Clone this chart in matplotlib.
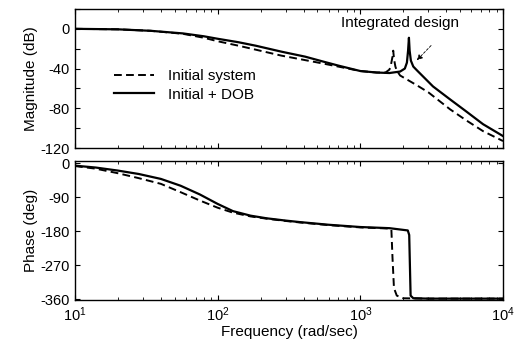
import numpy as np
import matplotlib
matplotlib.use("Agg")
import matplotlib.pyplot as plt
from matplotlib.ticker import MultipleLocator, FuncFormatter, LogLocator

plt.rcParams['font.family'] = ['Liberation Sans', 'DejaVu Sans']

# --- data (rad/sec, dB, deg) ---
f_mag_init = [10, 20, 34, 57, 80, 100, 140, 185, 280, 410, 550, 700, 1000, 1300, 1500,
              1600, 1640, 1680, 1700, 1720, 1760, 1800, 1900, 2500, 3000, 4250, 5500,
              7240, 10000]
mag_init = [0, -0.5, -2, -5, -9, -12.5, -17, -21, -27, -31.5, -35, -38, -42.5, -44, -44,
            -41, -36, -28, -22, -30, -38, -42, -47, -57, -64, -81, -92, -103, -113]

f_mag_dob = [10, 20, 34, 57, 80, 100, 140, 185, 280, 410, 550, 700, 1000, 1300, 1600,
             1900, 2050, 2120, 2160, 2190, 2215, 2260, 2350, 2500, 3230, 4250, 5500,
             7240, 10000]
mag_dob = [0, -0.5, -2, -4.6, -7.5, -10, -13.5, -17, -23, -28, -33, -37, -42.5, -44,
           -44.5, -43, -40, -34, -22, -9, -22, -32, -38, -42, -58, -71, -83, -96, -108]

f_ph_init = [10, 14, 20, 28, 40, 55, 75, 100, 128, 170, 221, 300, 378, 600, 1000, 1600,
             1650, 1680, 1720, 1800, 2000, 3000, 10000]
ph_init = [-8, -15, -27, -40, -55, -77, -99, -118, -131, -141, -147, -153, -157, -164,
           -170, -173, -176, -250, -330, -350, -357, -358, -358]

f_ph_dob = [10, 14, 20, 28, 40, 55, 75, 100, 128, 170, 221, 300, 378, 600, 1000, 1600,
            2150, 2200, 2250, 2350, 3000, 10000]
ph_dob = [-7, -12, -20, -29, -42, -60, -83, -108, -127, -139, -146, -152, -156, -163,
          -169, -172, -178, -190, -350, -357, -358, -358]

mag_ticks = [0, -40, -80, -120]
ph_ticks = [0, -90, -180, -270, -360]

fig = plt.figure(figsize=(5.17, 3.45), dpi=100)
ax1 = fig.add_axes([0.145, 0.571, 0.828, 0.403])
ax2 = fig.add_axes([0.145, 0.130, 0.828, 0.403])

dash = (0, (4, 2.2))
ax1.semilogx(f_mag_init, mag_init, color='black', lw=1.4, linestyle=dash, label='Initial system')
ax1.semilogx(f_mag_dob, mag_dob, color='black', lw=1.6, label='Initial + DOB')
ax2.semilogx(f_ph_init, ph_init, color='black', lw=1.4, linestyle=dash)
ax2.semilogx(f_ph_dob, ph_dob, color='black', lw=1.6)

ax1.set_ylim(-120, 20)
ax2.set_ylim(-362, 5)
for ax in (ax1, ax2):
    ax.set_xlim(10, 1e4)
    ax.xaxis.set_major_locator(LogLocator(base=10))
    ax.xaxis.set_minor_locator(LogLocator(base=10, subs=np.arange(2, 10)))
    ax.tick_params(which='both', direction='in', top=True, right=True, labelsize=10.5)
    ax.tick_params(which='major', length=3.5, width=0.8)
    ax.tick_params(which='minor', length=2, width=0.6)
    for s in ax.spines.values():
        s.set_linewidth(1.0)

ax1.yaxis.set_major_locator(MultipleLocator(20))
ax1.yaxis.set_major_formatter(FuncFormatter(
    lambda v, p: f"{int(v)}" if int(round(v)) in mag_ticks else ""))
ax1.tick_params(axis='x', which='both', labelbottom=False)

ax2.set_yticks(ph_ticks)
ax2.set_yticklabels([str(t) for t in ph_ticks])

ax1.set_ylabel('Magnitude (dB)', fontsize=11, labelpad=2)
ax2.set_ylabel('Phase (deg)', fontsize=11, labelpad=2)
ax2.set_xlabel('Frequency (rad/sec)', fontsize=11, labelpad=1)

ax1.legend(loc='center left', bbox_to_anchor=(0.06, 0.45), frameon=False,
           fontsize=11, handlelength=2.6, labelspacing=0.3, handletextpad=0.9)

ax1.text(1900, 6, 'Integrated design', fontsize=11, ha='center', va='center')
ax1.annotate('', xy=(2414, -33.6), xytext=(3230, -14.8),
             arrowprops=dict(arrowstyle='-|>', color='black', lw=0.6,
                             linestyle=(0, (3, 2)), mutation_scale=8))

fig.savefig('out.png', dpi=100)
